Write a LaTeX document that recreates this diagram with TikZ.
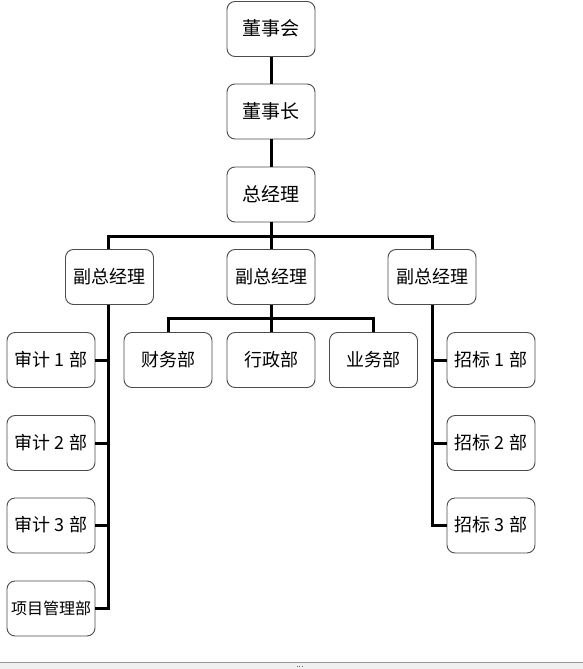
\documentclass[tikz,border=0pt]{standalone}
\usepackage{fontspec}
\setmainfont{Noto Sans CJK SC}
\newcommand{\liftup}[1]{\raisebox{2.5pt}{#1}}
\begin{document}
\begin{tikzpicture}[x=1pt,y=-1pt,
  box/.style={draw=black!70,line width=0.9pt,rounded corners=8pt,fill=white,
    minimum width=88pt,minimum height=55pt,inner sep=0pt,
    font=\fontsize{18}{20}\selectfont},
  topbox/.style={box,font=\fontsize{19}{21}\selectfont},
  link/.style={line width=3pt,line join=miter,line cap=butt}]
\useasboundingbox (0,0) rectangle (583,669);
% bottom bar
\fill[black!6] (0,662) rectangle (583,669);
\draw[black!40,line width=0.8pt] (0,662.4) -- (583,662.4);
\foreach \dx in {-2.5,0,2.5}{\fill[black!60] (299+\dx,665.5) rectangle ++(1.2,1.2);}
% nodes
\node[topbox] (dsh) at (271,29) {\liftup{董事会}};
\node[topbox] (dsz) at (271,111.5) {\liftup{董事长}};
\node[topbox] (zjl) at (271,194.5) {\liftup{总经理}};
\node[box] (fz1) at (109.5,277) {\liftup{副总经理}};
\node[box] (fz2) at (271,277) {\liftup{副总经理}};
\node[box] (fz3) at (432,277) {\liftup{副总经理}};
\node[box] (cw) at (168,360) {\liftup{财务部}};
\node[box] (xz) at (271,360) {\liftup{行政部}};
\node[box] (yw) at (373.5,360) {\liftup{业务部}};
\node[box] (sj1) at (51,360) {\liftup{审计 1 部}};
\node[box] (sj2) at (51,443) {\liftup{审计 2 部}};
\node[box] (sj3) at (51,525.5) {\liftup{审计 3 部}};
\node[box,font=\fontsize{16}{18}\selectfont] (xm) at (51,608.5) {\liftup{项目管理部}};
\node[box] (zb1) at (491,360) {\liftup{招标 1 部}};
\node[box] (zb2) at (491,443) {\liftup{招标 2 部}};
\node[box] (zb3) at (491,525.5) {\liftup{招标 3 部}};
\coordinate (bus1) at (0,236);
\coordinate (bus2) at (0,318);
\coordinate (lcol) at (108.5,0);
\coordinate (rcol) at (432.5,0);
% connectors
\draw[link] (dsh.south) -- (dsz.north);
\draw[link] (dsz.south) -- (zjl.north);
\draw[link] (zjl.south) -- (zjl.south |- bus1);
\draw[link] (fz1.north -| lcol) -- (lcol |- bus1) -- (rcol |- bus1) -- (fz3.north -| rcol);
\draw[link] (fz2.north) -- (fz2.north |- bus1);
\draw[link] (fz2.south) -- (xz.north);
\draw[link] (cw.north) -- (cw.north |- bus2) -- (yw.north |- bus2) -- (yw.north);
\draw[link] (fz1.south -| lcol) -- (lcol |- xm.east) -- (xm.east);
\draw[link] (sj1.east) -- (sj1.east -| lcol);
\draw[link] (sj2.east) -- (sj2.east -| lcol);
\draw[link] (sj3.east) -- (sj3.east -| lcol);
\draw[link] (fz3.south -| rcol) -- (rcol |- zb3.west) -- (zb3.west);
\draw[link] (zb1.west) -- (zb1.west -| rcol);
\draw[link] (zb2.west) -- (zb2.west -| rcol);
\end{tikzpicture}
\end{document}
